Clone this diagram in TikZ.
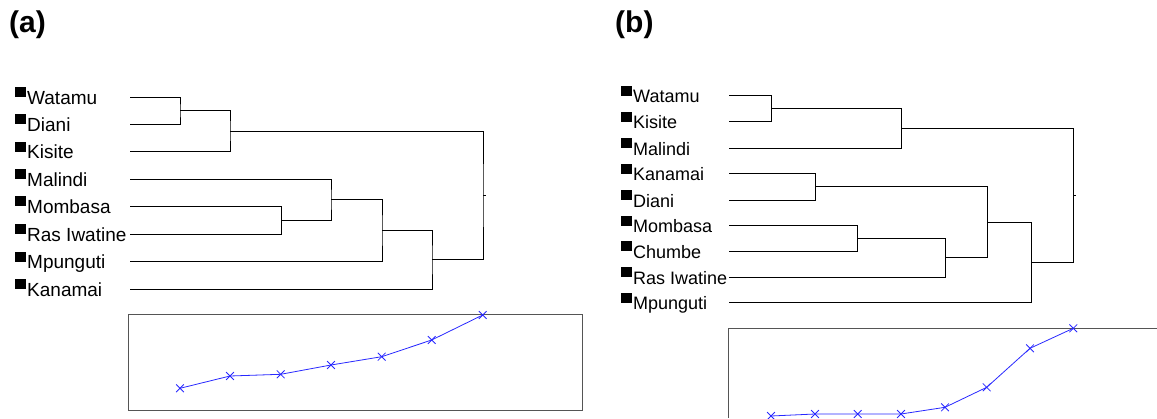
\documentclass[tikz,border=0pt]{standalone}
\usepackage{fontspec}
\setmainfont{Liberation Sans}
\usetikzlibrary{calc}

\definecolor{axisgray}{RGB}{85,85,85}
\definecolor{curveblue}{RGB}{40,40,255}

% black square in front of every site name, label padded to width #1
\newcommand{\sitebox}{\rule[7pt]{11pt}{10pt}\hspace{1pt}}
\newcommand{\sitelabel}[2]{\makebox[#1][l]{\sitebox #2}}
% bracket joining two branches at x = #3, new branch point called #4
\newcommand{\dendjoin}[4]{%
  \path let \p1=($(#1)!.5!(#2)$) in (#3pt,\y1) coordinate (#4);
  \draw[link] (#1) -| (#4) |- (#2);
}

\tikzset{
  site/.style={anchor=west,inner sep=0pt,text height=17pt,text depth=3pt},
  sitea/.style={site,font=\fontsize{19}{21}\selectfont},
  siteb/.style={site,font=\fontsize{18}{20}\selectfont},
  panel/.style={anchor=base west,inner sep=0pt,font=\fontsize{30}{32}\selectfont\bfseries},
  link/.style={line width=0.9pt,black},
  frame/.style={line width=1.2pt,axisgray},
  curve/.style={line width=0.8pt,curveblue,mark=x,mark size=5.5pt,
    mark options={line width=0.8pt}}
}

\begin{document}
\begin{tikzpicture}[x=1pt,y=-1pt]
  \useasboundingbox (0,0) rectangle (1157,418);

  % (a)
  \node[panel] (ta) at (9,32) {(a)};
  \node[sitea] (awat) at (15,97)    {\sitelabel{115pt}{Watamu}};
  \node[sitea] (adia) at (15,124)   {\sitelabel{115pt}{Diani}};
  \node[sitea] (akis) at (15,151.5) {\sitelabel{115pt}{Kisite}};
  \node[sitea] (amal) at (15,179)   {\sitelabel{115pt}{Malindi}};
  \node[sitea] (amom) at (15,206)   {\sitelabel{115pt}{Mombasa}};
  \node[sitea] (aras) at (15,234)   {\sitelabel{115pt}{Ras Iwatine}};
  \node[sitea] (ampu) at (15,261.5) {\sitelabel{115pt}{Mpunguti}};
  \node[sitea] (akan) at (15,289)   {\sitelabel{115pt}{Kanamai}};

  \dendjoin{awat.east}{adia.east}{180}{aj1}
  \dendjoin{aj1}{akis.east}{230}{aj2}
  \dendjoin{amom.east}{aras.east}{281.7}{aj3}
  \dendjoin{amal.east}{aj3}{331}{aj4}
  \dendjoin{aj4}{ampu.east}{382}{aj5}
  \dendjoin{aj5}{akan.east}{432}{aj6}
  \dendjoin{aj2}{aj6}{483}{aroot}
  \draw[link] (aroot) -- ++(2.5,0);

  \draw[frame] (128.3,314.7) rectangle (582.7,410.7);
  \draw[curve] plot coordinates {(180,388.3) (230,376) (280.7,374.3)
    (331,365) (381.7,356.7) (431.7,340) (482.7,315)};

  % (b)
  \node[panel] (tb) at (615,32) {(b)};
  \node[siteb] (bwat) at (621,95.7)  {\sitelabel{108pt}{Watamu}};
  \node[siteb] (bkis) at (621,121.7) {\sitelabel{108pt}{Kisite}};
  \node[siteb] (bmal) at (621,148.3) {\sitelabel{108pt}{Malindi}};
  \node[siteb] (bkan) at (621,173.7) {\sitelabel{108pt}{Kanamai}};
  \node[siteb] (bdia) at (621,200)   {\sitelabel{108pt}{Diani}};
  \node[siteb] (bmom) at (621,225.7) {\sitelabel{108pt}{Mombasa}};
  \node[siteb] (bchu) at (621,251)   {\sitelabel{108pt}{Chumbe}};
  \node[siteb] (bras) at (621,277)   {\sitelabel{108pt}{Ras Iwatine}};
  \node[siteb] (bmpu) at (621,302.5) {\sitelabel{108pt}{Mpunguti}};

  \dendjoin{bwat.east}{bkis.east}{771.7}{bj1}
  \dendjoin{bj1}{bmal.east}{901.3}{bj2}
  \dendjoin{bkan.east}{bdia.east}{815.7}{bj3}
  \dendjoin{bmom.east}{bchu.east}{857.5}{bj4}
  \dendjoin{bj4}{bras.east}{945.3}{bj5}
  \dendjoin{bj3}{bj5}{987.3}{bj6}
  \dendjoin{bj6}{bmpu.east}{1031}{bj7}
  \dendjoin{bj2}{bj7}{1073}{broot}
  \draw[link] (broot) -- ++(2.5,0);

  \draw[frame] (728.3,418) -- (728.3,328.3) -- (1157,328.3);
  \draw[curve] plot coordinates {(771,416) (815,414) (857.7,414) (901,414)
    (945,407.3) (986.7,387.3) (1030,348.3) (1073.3,328.3)};
\end{tikzpicture}
\end{document}
